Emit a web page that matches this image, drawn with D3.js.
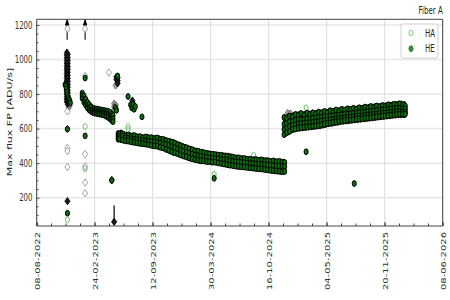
<!DOCTYPE html>
<html>
<head>
<meta charset="utf-8">
<script src="https://cdn.jsdelivr.net/npm/d3@7"></script>
<style>
body { margin: 0; background: #fff; }
text { font-family: 'DejaVu Sans', sans-serif; }
</style>
</head>
<body>
<svg width="450" height="300"></svg>
<script>
// ---- data ----
var xTickLabels = ['08-08-2022', '24-02-2023', '12-09-2023', '30-03-2024', '16-10-2024', '04-05-2025', '20-11-2025', '08-06-2026'];
var yTicks = [200, 400, 600, 800, 1000, 1200];

// HE, main bands: [date, values...]
var heBand0 = [
  ['2023-01-12', 806, 790, 776], ['2023-01-18', 790, 770, 752], ['2023-01-24', 770, 750, 735],
  ['2023-01-30', 752, 735, 720], ['2023-02-05', 740, 722, 708], ['2023-02-11', 728, 712, 700],
  ['2023-02-17', 720, 705, 694], ['2023-02-23', 716, 702, 690], ['2023-03-01', 714, 700, 688],
  ['2023-03-07', 712, 698, 686], ['2023-03-13', 710, 696, 684], ['2023-03-19', 708, 694, 682],
  ['2023-03-25', 706, 692, 680], ['2023-03-31', 704, 690, 676], ['2023-04-06', 702, 686, 670],
  ['2023-04-12', 700, 682, 664], ['2023-04-18', 694, 674, 656], ['2023-04-24', 684, 664, 646],
  ['2023-04-28', 676, 656, 640]
];
var heBand1 = [
  ['2023-05-16', 572, 560, 548, 538], ['2023-05-26', 575, 562, 550, 536], ['2023-06-05', 566, 555, 543, 532],
  ['2023-06-15', 562, 550, 540, 528], ['2023-06-25', 560, 548, 536, 526], ['2023-07-05', 558, 546, 534, 522],
  ['2023-07-15', 556, 545, 532, 520], ['2023-07-25', 552, 540, 528, 516], ['2023-08-04', 550, 538, 526, 514],
  ['2023-08-14', 548, 536, 524, 512], ['2023-08-24', 550, 538, 525, 510], ['2023-09-03', 546, 534, 520, 506],
  ['2023-09-13', 544, 530, 516, 502], ['2023-09-23', 545, 532, 518, 500], ['2023-10-03', 542, 528, 512, 496],
  ['2023-10-13', 538, 524, 508, 492], ['2023-10-23', 534, 518, 502, 486], ['2023-11-02', 528, 512, 496, 478],
  ['2023-11-12', 524, 506, 490, 470], ['2023-11-22', 520, 500, 482, 462], ['2023-12-02', 512, 494, 476, 458],
  ['2023-12-12', 505, 488, 470, 452], ['2023-12-22', 498, 482, 464, 446], ['2024-01-01', 492, 476, 458, 440],
  ['2024-01-11', 486, 470, 452, 434], ['2024-01-21', 480, 464, 448, 428], ['2024-01-31', 474, 458, 442, 424],
  ['2024-02-10', 470, 454, 438, 420], ['2024-02-20', 466, 450, 434, 416], ['2024-03-01', 462, 447, 432, 414],
  ['2024-03-11', 458, 444, 428, 412], ['2024-03-21', 455, 440, 426, 410], ['2024-03-31', 452, 438, 424, 410],
  ['2024-04-10', 450, 436, 422, 408], ['2024-04-20', 448, 434, 420, 406], ['2024-04-30', 446, 432, 418, 404],
  ['2024-05-10', 444, 430, 416, 400], ['2024-05-20', 442, 428, 412, 396], ['2024-05-30', 440, 425, 410, 392],
  ['2024-06-09', 436, 422, 406, 390], ['2024-06-19', 432, 418, 402, 386], ['2024-06-29', 430, 416, 400, 382],
  ['2024-07-09', 428, 414, 398, 380], ['2024-07-19', 426, 412, 396, 380], ['2024-07-29', 424, 410, 394, 378],
  ['2024-08-08', 422, 408, 392, 376], ['2024-08-18', 420, 406, 390, 374], ['2024-08-28', 420, 405, 388, 372],
  ['2024-09-07', 418, 404, 386, 370], ['2024-09-17', 418, 402, 386, 368], ['2024-09-27', 416, 400, 384, 366],
  ['2024-10-07', 414, 398, 382, 364], ['2024-10-17', 412, 396, 380, 362], ['2024-10-27', 410, 394, 378, 358],
  ['2024-11-06', 410, 394, 376, 356], ['2024-11-16', 408, 392, 374, 354], ['2024-11-26', 408, 390, 372, 352],
  ['2024-12-06', 406, 390, 372, 352]
];
var heBand1b = [
  ['2023-05-21', 568, 552, 540], ['2023-05-31', 570, 555, 534], ['2023-06-10', 560, 546, 530], ['2023-06-20', 563, 544, 529],
  ['2023-06-30', 555, 540, 524], ['2023-07-10', 560, 538, 521], ['2023-07-20', 551, 536, 518], ['2023-07-30', 554, 533, 515],
  ['2023-08-09', 546, 530, 513], ['2023-08-19', 552, 529, 510], ['2023-08-29', 545, 527, 507], ['2023-09-08', 548, 524, 503],
  ['2023-09-18', 540, 521, 500], ['2023-09-28', 546, 520, 498], ['2023-10-08', 536, 516, 492], ['2023-10-18', 537, 510, 488],
  ['2023-10-28', 530, 508, 480], ['2023-11-07', 527, 502, 474], ['2023-11-17', 520, 495, 466], ['2023-11-27', 516, 490, 460],
  ['2023-12-07', 508, 482, 455], ['2023-12-17', 502, 476, 448], ['2023-12-27', 494, 468, 442], ['2024-01-06', 490, 462, 437],
  ['2024-01-16', 482, 458, 430], ['2024-01-26', 478, 452, 426], ['2024-02-05', 471, 446, 421], ['2024-02-15', 469, 442, 417],
  ['2024-02-25', 463, 440, 413], ['2024-03-06', 461, 436, 413], ['2024-03-16', 456, 433, 409], ['2024-03-26', 454, 431, 409],
  ['2024-04-05', 451, 428, 405], ['2024-04-15', 449, 426, 405], ['2024-04-25', 445, 424, 401], ['2024-05-05', 445, 421, 398],
  ['2024-05-15', 441, 419, 395], ['2024-05-25', 441, 416, 391], ['2024-06-04', 437, 414, 388], ['2024-06-14', 435, 410, 386],
  ['2024-06-24', 430, 408, 383], ['2024-07-04', 431, 406, 381], ['2024-07-14', 425, 404, 379], ['2024-07-24', 427, 402, 377],
  ['2024-08-03', 421, 400, 375], ['2024-08-13', 423, 398, 373], ['2024-08-23', 419, 397, 371], ['2024-09-02', 421, 395, 369],
  ['2024-09-12', 416, 394, 367], ['2024-09-22', 419, 392, 366], ['2024-10-02', 413, 391, 363], ['2024-10-12', 415, 388, 361],
  ['2024-10-22', 409, 386, 358], ['2024-11-01', 413, 385, 357], ['2024-11-11', 407, 383, 355], ['2024-11-21', 410, 382, 353],
  ['2024-12-01', 405, 381, 351], ['2024-12-10', 404, 380, 352]
];
var heBand2 = [
  ['2024-12-12', 660, 638, 612, 590, 570], ['2024-12-22', 668, 645, 620, 598, 580], ['2025-01-01', 672, 650, 628, 606, 590],
  ['2025-01-11', 676, 655, 632, 610, 596], ['2025-01-21', 680, 658, 636, 614, 600], ['2025-01-31', 684, 660, 638, 616, 602],
  ['2025-02-10', 682, 660, 638, 618, 604], ['2025-02-20', 684, 662, 640, 620, 606], ['2025-03-02', 686, 664, 642, 622, 608],
  ['2025-03-12', 686, 666, 644, 624, 610], ['2025-03-22', 688, 668, 646, 626, 612], ['2025-04-01', 690, 670, 648, 628, 614],
  ['2025-04-11', 692, 672, 650, 630, 616], ['2025-04-21', 694, 674, 654, 634, 620], ['2025-05-01', 696, 676, 656, 636, 624],
  ['2025-05-11', 698, 678, 658, 640, 628], ['2025-05-21', 700, 680, 660, 642, 630], ['2025-05-31', 702, 682, 662, 646, 634],
  ['2025-06-10', 704, 684, 664, 648, 636], ['2025-06-20', 706, 686, 668, 652, 640], ['2025-06-30', 708, 688, 670, 654, 642],
  ['2025-07-10', 710, 690, 672, 656, 644], ['2025-07-20', 712, 692, 674, 658, 646], ['2025-07-30', 713, 694, 676, 660, 648],
  ['2025-08-09', 714, 696, 678, 662, 650], ['2025-08-19', 716, 698, 680, 664, 652], ['2025-08-29', 718, 700, 682, 666, 654],
  ['2025-09-08', 720, 702, 684, 668, 656], ['2025-09-18', 722, 704, 686, 670, 658], ['2025-09-28', 724, 706, 688, 672, 660],
  ['2025-10-08', 726, 708, 690, 674, 662], ['2025-10-18', 728, 710, 692, 676, 664], ['2025-10-28', 729, 711, 694, 678, 666],
  ['2025-11-07', 730, 712, 696, 680, 668], ['2025-11-17', 732, 714, 698, 682, 670], ['2025-11-27', 734, 716, 700, 684, 672],
  ['2025-12-07', 736, 718, 702, 686, 674], ['2025-12-17', 738, 720, 704, 688, 676], ['2025-12-27', 740, 722, 706, 690, 678],
  ['2026-01-06', 742, 724, 708, 692, 680], ['2026-01-16', 742, 724, 708, 692, 680], ['2026-01-26', 740, 722, 706, 690, 680]
];
var heBand2b = [
  ['2024-12-08', 665, 625, 595, 565], ['2024-12-17', 662, 630, 603, 576], ['2024-12-27', 672, 640, 612, 584], ['2025-01-06', 666, 642, 618, 598],
  ['2025-01-16', 682, 648, 622, 598], ['2025-01-26', 676, 652, 626, 604], ['2025-02-05', 688, 650, 628, 606], ['2025-02-15', 678, 652, 630, 608],
  ['2025-02-25', 690, 656, 632, 610], ['2025-03-07', 682, 658, 634, 612], ['2025-03-17', 692, 660, 636, 614], ['2025-03-27', 686, 662, 638, 616],
  ['2025-04-06', 696, 664, 640, 618], ['2025-04-16', 690, 666, 644, 622], ['2025-04-26', 700, 668, 646, 626], ['2025-05-06', 694, 670, 648, 630],
  ['2025-05-16', 704, 672, 650, 632], ['2025-05-26', 698, 674, 652, 636], ['2025-06-05', 708, 676, 656, 638], ['2025-06-15', 702, 678, 658, 642],
  ['2025-06-25', 712, 680, 660, 644], ['2025-07-05', 706, 682, 662, 646], ['2025-07-15', 715, 684, 664, 648], ['2025-07-25', 709, 686, 666, 650],
  ['2025-08-04', 718, 688, 668, 652], ['2025-08-14', 712, 690, 670, 654], ['2025-08-24', 721, 692, 672, 656], ['2025-09-03', 715, 694, 674, 658],
  ['2025-09-13', 725, 696, 676, 660], ['2025-09-23', 719, 698, 678, 662], ['2025-10-03', 728, 700, 680, 664], ['2025-10-13', 722, 702, 682, 666],
  ['2025-10-23', 731, 704, 684, 668], ['2025-11-02', 725, 705, 686, 670], ['2025-11-12', 734, 707, 688, 672], ['2025-11-22', 728, 709, 690, 674],
  ['2025-12-02', 738, 711, 692, 676], ['2025-12-12', 732, 713, 694, 678], ['2025-12-22', 741, 715, 696, 680], ['2026-01-01', 736, 717, 698, 682],
  ['2026-01-11', 744, 719, 700, 684], ['2026-01-21', 738, 716, 698, 684], ['2026-01-30', 730, 712, 696, 684]
];
// HE scattered points
var heExtra = [
  ['2022-11-14', 855], ['2022-11-16', 848], ['2022-11-18', 830], ['2022-11-20', 812], ['2022-11-22', 795],
  ['2022-11-24', 780], ['2022-11-26', 768], ['2022-11-28', 755], ['2022-11-30', 762], ['2022-12-02', 748],
  ['2022-11-22', 597], ['2022-11-22', 110], ['2023-01-22', 893], ['2023-01-22', 558], ['2023-04-24', 300],
  ['2023-05-14', 905], ['2023-05-06', 722], ['2023-05-10', 706], ['2023-06-19', 786], ['2023-06-28', 738],
  ['2023-07-02', 720], ['2023-07-06', 742], ['2023-07-10', 712], ['2023-07-14', 728], ['2023-08-06', 668],
  ['2024-04-11', 312], ['2025-02-22', 466], ['2025-08-07', 282]
];
// HA points (mostly under HE)
var haBand = [
  ['2023-05-20', 565, 545], ['2023-07-01', 550, 530], ['2023-08-10', 540, 520], ['2023-09-20', 530, 510],
  ['2023-11-01', 515, 490], ['2023-12-10', 490, 465], ['2024-01-20', 470, 445], ['2024-03-01', 450, 425],
  ['2024-04-10', 440, 418], ['2024-05-20', 430, 405], ['2024-07-01', 420, 395], ['2024-08-10', 412, 385],
  ['2024-09-20', 405, 380], ['2024-11-01', 400, 372], ['2024-12-20', 650, 600], ['2025-02-01', 670, 620],
  ['2025-03-15', 675, 630], ['2025-04-25', 685, 640], ['2025-06-05', 695, 650], ['2025-07-15', 705, 660],
  ['2025-08-25', 710, 665], ['2025-10-05', 718, 672], ['2025-11-15', 725, 680], ['2025-12-25', 732, 688],
  ['2026-01-25', 730, 690]
];
var haExtra = [
  ['2022-11-22', 72], ['2023-01-22', 612], ['2023-01-22', 368], ['2023-06-19', 612], ['2023-06-19', 596],
  ['2024-04-11', 336], ['2024-08-25', 446], ['2025-02-22', 720]
];
// reference points drawn as diamonds (no legend entry)
var darkDiamonds = [
  ['2022-11-20', 1040, 1025, 1010, 995, 980, 965, 950, 935, 920, 905, 890, 875, 860, 845, 830, 815, 800, 785, 770, 755],
  ['2022-11-23', 1030, 1012, 996, 978, 960, 944, 926, 908, 892, 874, 856, 840, 822, 806, 790, 772, 756, 742],
  ['2022-11-22', 180], ['2023-04-24', 302], ['2023-05-02', 60],
  ['2023-05-10', 900, 885], ['2023-05-14', 895, 878, 862], ['2023-07-04', 762]
];
var grayDiamonds = [
  ['2022-11-26', 780, 765, 750, 735, 722], ['2022-11-29', 760, 742, 728],
  ['2023-05-07', 850], ['2023-05-02', 745, 728, 712], ['2023-05-08', 735, 718], ['2023-07-06', 748],
  ['2024-12-20', 690], ['2024-12-30', 688]
];
var hollowDiamonds = [
  ['2022-11-22', 1178, 700, 598, 488, 470, 378],
  ['2023-01-22', 1178, 905, 452, 380, 288, 226],
  ['2023-04-14', 925]
];
// off-scale markers: [date, from, to]
var arrows = [['2022-11-21', 1115, 1233], ['2023-01-22', 1115, 1233]];
var stems = [['2023-05-02', 155, 45]];

// ---- layout ----
var svg = d3.select('svg');
var sx = 0.7; // the source figure is squeezed sideways
var svgWidth = 450 / sx, svgHeight = 300;
var padding = {t: 19.3, r: (450 - 442.7) / sx, b: 300 - 226, l: 36.7 / sx};
var chartWidth = svgWidth - padding.l - padding.r;
var chartHeight = svgHeight - padding.t - padding.b;

var root = svg.append('g').attr('transform', 'scale(' + sx + ',1)');
var chartG = root.append('g').attr('transform', 'translate(' + [padding.l, padding.t] + ')');

var parseDate = d3.timeParse('%Y-%m-%d');
var parseTick = d3.timeParse('%d-%m-%Y');
var majorDates = xTickLabels.map(parseTick);
var minorDates = d3.range(0, 1401, 50).map(function(d) { return d3.timeDay.offset(majorDates[0], d); });
var minorY = d3.range(50, 1233, 50).filter(function(v) { return yTicks.indexOf(v) < 0; });

var xScale = d3.scaleTime().domain([majorDates[0], majorDates[majorDates.length - 1]]).range([0, chartWidth]);
var yScale = d3.scaleLinear().domain([36, 1233]).range([chartHeight, 0]);

function flat(rows) {
  var out = [];
  rows.forEach(function(r) {
    r.slice(1).forEach(function(v) { out.push({date: parseDate(r[0]), value: v}); });
  });
  return out;
}
function diamond(h) {
  return 'M0,' + (-h) + 'L' + h + ',0L0,' + h + 'L' + (-h) + ',0Z';
}

// grid
chartG.append('g').selectAll('line').data(yTicks).enter().append('line')
  .attr('x1', 0).attr('x2', chartWidth)
  .attr('y1', function(d) { return yScale(d); }).attr('y2', function(d) { return yScale(d); })
  .attr('stroke', '#e6e6e6').attr('stroke-width', 1.5).attr('vector-effect', 'non-scaling-stroke');
chartG.append('g').selectAll('line').data(majorDates).enter().append('line')
  .attr('y1', 0).attr('y2', chartHeight)
  .attr('x1', function(d) { return xScale(d); }).attr('x2', function(d) { return xScale(d); })
  .attr('stroke', '#dcdcdc').attr('stroke-width', 1).attr('vector-effect', 'non-scaling-stroke');

// axes
var xAxis = d3.axisBottom(xScale).tickValues(majorDates).tickSize(-4).tickFormat(d3.timeFormat('%d-%m-%Y'));
var xg = chartG.append('g').attr('class', 'axis').attr('transform', 'translate(0,' + chartHeight + ')').call(xAxis);
xg.selectAll('text').attr('transform', 'rotate(-90)').attr('text-anchor', 'end')
  .attr('x', -6).attr('y', 0).attr('dy', '0.35em');
chartG.append('g').attr('class', 'axis').attr('transform', 'translate(0,' + chartHeight + ')')
  .call(d3.axisBottom(xScale).tickValues(minorDates).tickSize(-2.5).tickFormat(''));

var yAxis = d3.axisLeft(yScale).tickValues(yTicks).tickSize(-4).tickPadding(6).tickFormat(d3.format('d'));
chartG.append('g').attr('class', 'axis').call(yAxis);
chartG.append('g').attr('class', 'axis').call(d3.axisLeft(yScale).tickValues(minorY).tickSize(-2.5).tickFormat(''));

chartG.selectAll('.axis .domain').remove();
chartG.selectAll('.axis line').attr('stroke', '#444').attr('vector-effect', 'non-scaling-stroke');
chartG.selectAll('.axis text').attr('fill', '#333').style('font-size', '10px');

// off-scale arrows and stems
root.append('defs').append('marker').attr('id', 'head')
  .attr('viewBox', '0 0 10 10').attr('refX', 9).attr('refY', 5)
  .attr('markerWidth', 5).attr('markerHeight', 4.5).attr('orient', 'auto')
  .append('path').attr('d', 'M0,0L10,5L0,10Z').attr('fill', '#000');

var marks = chartG.append('g');
marks.selectAll('.arrow').data(arrows).enter().append('line').attr('class', 'arrow')
  .attr('x1', function(d) { return xScale(parseDate(d[0])); }).attr('x2', function(d) { return xScale(parseDate(d[0])); })
  .attr('y1', function(d) { return yScale(d[1]); }).attr('y2', function(d) { return yScale(d[2]); })
  .attr('stroke', '#000').attr('stroke-width', 1.5).attr('marker-end', 'url(#head)');
marks.selectAll('.stem').data(stems).enter().append('line').attr('class', 'stem')
  .attr('x1', function(d) { return xScale(parseDate(d[0])); }).attr('x2', function(d) { return xScale(parseDate(d[0])); })
  .attr('y1', function(d) { return yScale(d[1]); }).attr('y2', function(d) { return yScale(d[2]); })
  .attr('stroke', '#000').attr('stroke-width', 1.2).attr('vector-effect', 'non-scaling-stroke');

// diamonds
function drawDiamonds(rows, fill, stroke, opacity) {
  marks.append('g').selectAll('path').data(flat(rows)).enter().append('path')
    .attr('d', diamond(3.7))
    .attr('transform', function(d) { return 'translate(' + [xScale(d.date), yScale(d.value)] + ')'; })
    .attr('fill', fill).attr('stroke', stroke).attr('stroke-width', 0.8)
    .attr('fill-opacity', opacity).attr('vector-effect', 'non-scaling-stroke');
}
drawDiamonds(grayDiamonds, '#8a8a8a', '#666', 0.8);
drawDiamonds(darkDiamonds, '#1c1c1c', '#000', 1);
drawDiamonds(hollowDiamonds, '#fff', '#8c8c8c', 1);

// HA (hollow) then HE (filled)
function drawCircles(points, fill, stroke, sw) {
  marks.append('g').selectAll('circle').data(points).enter().append('circle')
    .attr('cx', function(d) { return xScale(d.date); })
    .attr('cy', function(d) { return yScale(d.value); })
    .attr('r', 2.9)
    .attr('fill', fill).attr('stroke', stroke).attr('stroke-width', sw)
    .attr('vector-effect', 'non-scaling-stroke');
}
drawCircles(flat(haBand).concat(flat(haExtra)), 'none', '#6cc46c', 1);
drawCircles(flat(heBand0).concat(flat(heBand1), flat(heBand1b), flat(heBand2), flat(heBand2b), flat(heExtra)),
  '#0b6e0b', '#000', 1);

// frame
chartG.append('rect').attr('width', chartWidth).attr('height', chartHeight)
  .attr('fill', 'none').attr('stroke', '#444').attr('stroke-width', 1).attr('vector-effect', 'non-scaling-stroke');

// texts
root.append('text').attr('x', 442.7 / sx).attr('y', 14).attr('text-anchor', 'end')
  .style('font-size', '10px').attr('fill', '#222').text('Fiber A');
root.append('text').attr('transform', 'translate(' + [9 / sx, 122] + ') rotate(-90)')
  .attr('text-anchor', 'middle').attr('dy', '0.35em')
  .style('font-size', '11px').attr('fill', '#222').text('Max flux FP [ADU/s]');

// legend
var legend = root.append('g').attr('transform', 'translate(' + [401 / sx, 24] + ')');
legend.append('rect').attr('width', 37 / sx).attr('height', 34).attr('rx', 2)
  .attr('fill', '#fff').attr('fill-opacity', 0.85).attr('stroke', '#d0d0d0').attr('vector-effect', 'non-scaling-stroke');
var legendItems = [
  {label: 'HA', fill: 'none', stroke: '#7ccf7c'},
  {label: 'HE', fill: '#2e8b2e', stroke: '#2e8b2e'}
];
var li = legend.selectAll('.item').data(legendItems).enter().append('g').attr('class', 'item')
  .attr('transform', function(d, i) { return 'translate(0,' + (9 + i * 15.7) + ')'; });
li.append('circle').attr('cx', 10 / sx).attr('r', 2.9)
  .attr('fill', function(d) { return d.fill; }).attr('stroke', function(d) { return d.stroke; })
  .attr('vector-effect', 'non-scaling-stroke');
li.append('text').attr('x', 24 / sx).attr('dy', '0.35em').style('font-size', '10px').attr('fill', '#222')
  .text(function(d) { return d.label; });
</script>
</body>
</html>
